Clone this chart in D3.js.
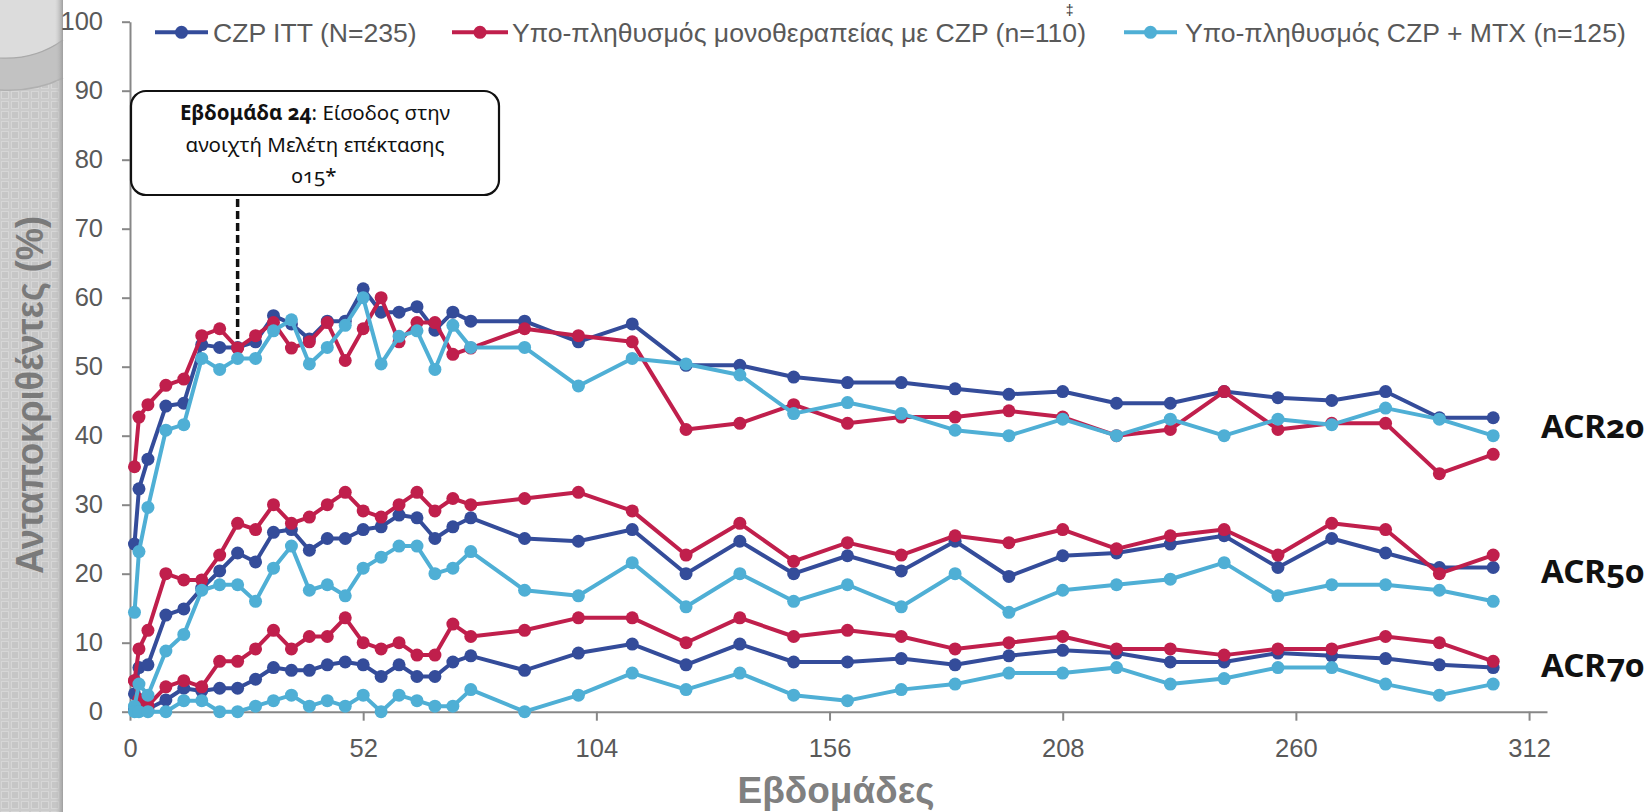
<!DOCTYPE html>
<html>
<head>
<meta charset="utf-8">
<script src="https://cdn.jsdelivr.net/npm/d3@7"></script>
<style>
  html, body { margin: 0; padding: 0; background: #ffffff; }
  svg { display: block; }
</style>
</head>
<body>
<svg id="chart" width="1650" height="812"></svg>
<script>
// Assessment weeks
const weeks = [1, 2, 4, 8, 12, 16, 20, 24, 28, 32, 36, 40, 44, 48, 52, 56, 60, 64, 68, 72, 76,
  88, 100, 112, 124, 136, 148, 160, 172, 184, 196, 208, 220, 232, 244, 256, 268, 280, 292, 304];

// CZP ITT (N=235)
const ittAcr20 = [24.3, 32.3, 36.6, 44.3, 44.7, 53.2, 52.8, 52.8, 53.6, 57.4, 56.2, 54.0, 56.6, 56.6, 61.3, 57.9, 57.9, 58.7, 55.3, 57.9, 56.6,
  56.6, 53.6, 56.2, 50.2, 50.2, 48.5, 47.7, 47.7, 46.8, 46.0, 46.4, 44.7, 44.7, 46.4, 45.5, 45.1, 46.4, 42.6, 42.6];
const ittAcr50 = [2.6, 6.4, 6.8, 14.0, 14.9, 17.9, 20.4, 23.0, 21.7, 26.0, 26.4, 23.4, 25.1, 25.1, 26.4, 26.8, 28.5, 28.1, 25.1, 26.8, 28.1,
  25.1, 24.7, 26.4, 20.0, 24.7, 20.0, 22.6, 20.4, 24.7, 19.6, 22.6, 23.0, 24.3, 25.5, 20.9, 25.1, 23.0, 20.9, 20.9];
const ittAcr70 = [0.4, 0.4, 0.4, 1.7, 3.4, 3.0, 3.4, 3.4, 4.7, 6.4, 6.0, 6.0, 6.8, 7.2, 6.8, 5.1, 6.8, 5.1, 5.1, 7.2, 8.1,
  6.0, 8.5, 9.8, 6.8, 9.8, 7.2, 7.2, 7.7, 6.8, 8.1, 8.9, 8.5, 7.2, 7.2, 8.5, 8.1, 7.7, 6.8, 6.4];

// CZP monotherapy subpopulation (n=110)
const monoAcr20 = [35.5, 42.7, 44.5, 47.3, 48.2, 54.5, 55.5, 52.7, 54.5, 56.4, 52.7, 53.6, 56.4, 50.9, 55.5, 60.0, 53.6, 56.4, 56.4, 51.8, 52.7,
  55.5, 54.5, 53.6, 40.9, 41.8, 44.5, 41.8, 42.7, 42.7, 43.6, 42.7, 40.0, 40.9, 46.4, 40.9, 41.8, 41.8, 34.5, 37.3];
const monoAcr50 = [4.5, 9.1, 11.8, 20.0, 19.1, 19.1, 22.7, 27.3, 26.4, 30.0, 27.3, 28.2, 30.0, 31.8, 29.1, 28.2, 30.0, 31.8, 29.1, 30.9, 30.0,
  30.9, 31.8, 29.1, 22.7, 27.3, 21.8, 24.5, 22.7, 25.5, 24.5, 26.4, 23.6, 25.5, 26.4, 22.7, 27.3, 26.4, 20.0, 22.7];
const monoAcr70 = [4.5, 1.8, 0.9, 3.6, 4.5, 3.6, 7.3, 7.3, 9.1, 11.8, 9.1, 10.9, 10.9, 13.6, 10.0, 9.1, 10.0, 8.2, 8.2, 12.7, 10.9,
  11.8, 13.6, 13.6, 10.0, 13.6, 10.9, 11.8, 10.9, 9.1, 10.0, 10.9, 9.1, 9.1, 8.2, 9.1, 9.1, 10.9, 10.0, 7.3];

// CZP + MTX subpopulation (n=125)
const mtxAcr20 = [14.4, 23.2, 29.6, 40.8, 41.6, 51.2, 49.6, 51.2, 51.2, 55.2, 56.8, 50.4, 52.8, 56.0, 60.0, 50.4, 54.4, 55.2, 49.6, 56.0, 52.8,
  52.8, 47.2, 51.2, 50.4, 48.8, 43.2, 44.8, 43.2, 40.8, 40.0, 42.4, 40.0, 42.4, 40.0, 42.4, 41.6, 44.0, 42.4, 40.0];
const mtxAcr50 = [0.8, 4.0, 2.4, 8.8, 11.2, 17.6, 18.4, 18.4, 16.0, 20.8, 24.0, 17.6, 18.4, 16.8, 20.8, 22.4, 24.0, 24.0, 20.0, 20.8, 23.2,
  17.6, 16.8, 21.6, 15.2, 20.0, 16.0, 18.4, 15.2, 20.0, 14.4, 17.6, 18.4, 19.2, 21.6, 16.8, 18.4, 18.4, 17.6, 16.0];
const mtxAcr70 = [0, 0, 0, 0, 1.6, 1.6, 0, 0, 0.8, 1.6, 2.4, 0.8, 1.6, 0.8, 2.4, 0, 2.4, 1.6, 0.8, 0.8, 3.2,
  0, 2.4, 5.6, 3.2, 5.6, 2.4, 1.6, 3.2, 4.0, 5.6, 5.6, 6.4, 4.0, 4.8, 6.4, 6.4, 4.0, 2.4, 4.0];

const legendLabels = ["CZP ITT (N=235)", "Υπο-πληθυσμός μονοθεραπείας με CZP (n=110)", "Υπο-πληθυσμός CZP + MTX (n=125)"];
const footnoteMark = "‡";
const seriesColors = ["#344C9A", "#C01F4C", "#4FAFD5"];
const xTicks = [0, 52, 104, 156, 208, 260, 312];
const yTicks = [0, 10, 20, 30, 40, 50, 60, 70, 80, 90, 100];
const acrLabels = ["ACR20", "ACR50", "ACR70"];
const acrLabelValues = [39.6, 18.6, 5.1];
const extensionWeek = 24;

const populations = [
  { name: legendLabels[0], color: seriesColors[0], levels: [ittAcr20, ittAcr50, ittAcr70] },
  { name: legendLabels[1], color: seriesColors[1], levels: [monoAcr20, monoAcr50, monoAcr70], mark: footnoteMark },
  { name: legendLabels[2], color: seriesColors[2], levels: [mtxAcr20, mtxAcr50, mtxAcr70] }
];

const svg = d3.select("#chart");
const axisGrey = "#878787";
const textGrey = "#595959";

// ---- decorative side band ----
const defs = svg.append("defs");
const pat = defs.append("pattern").attr("id", "checks")
  .attr("width", 10).attr("height", 10).attr("patternUnits", "userSpaceOnUse");
pat.append("rect").attr("width", 10).attr("height", 10).attr("fill", "#cbcbcb");
pat.append("rect").attr("x", 1.5).attr("y", 1.5).attr("width", 7).attr("height", 7)
  .attr("fill", "#c6c6c6").attr("stroke", "#d6d6d6").attr("stroke-width", 1);
const edge = defs.append("linearGradient").attr("id", "bandEdge").attr("x1", 0).attr("x2", 1);
edge.append("stop").attr("offset", 0).attr("stop-color", "#c4c4c4").attr("stop-opacity", 0);
edge.append("stop").attr("offset", 1).attr("stop-color", "#9e9e9e").attr("stop-opacity", 1);

svg.append("rect").attr("x", 0).attr("y", 0).attr("width", 63).attr("height", 812).attr("fill", "url(#checks)");
svg.append("path").attr("d", "M0,0 L63,0 L63,40 Q35,60 0,58 Z").attr("fill", "#dcdcdc");
svg.append("path").attr("d", "M0,58 Q35,60 63,40 L63,78 Q35,92 0,90 Z").attr("fill", "#c2c2c2");
svg.append("path").attr("d", "M0,58 Q35,60 63,40").attr("fill", "none").attr("stroke", "#a9a9a9").attr("stroke-width", 1.2);
svg.append("path").attr("d", "M0,90 Q35,92 63,78").attr("fill", "none").attr("stroke", "#b0b0b0").attr("stroke-width", 1.5);
svg.append("rect").attr("x", 55).attr("y", 0).attr("width", 8).attr("height", 812).attr("fill", "url(#bandEdge)");

// ---- scales ----
const x = d3.scaleLinear().domain([0, 316]).range([130, 1547]);
const y = d3.scaleLinear().domain([0, 100]).range([711.7, 21.7]);

// ---- axes ----
const yAxis = svg.append("g").attr("transform", `translate(${x(0)},0)`)
  .call(d3.axisLeft(y).tickValues(yTicks).tickSize(8).tickSizeOuter(0).tickPadding(19));
const xAxis = svg.append("g").attr("transform", `translate(0,${y(0)})`)
  .call(d3.axisBottom(x).tickValues(xTicks).tickSize(9).tickSizeOuter(0).tickPadding(18));
[yAxis, xAxis].forEach(g => {
  g.select(".domain").attr("stroke", axisGrey).attr("stroke-width", 2);
  g.selectAll(".tick line").attr("stroke", axisGrey).attr("stroke-width", 2);
  g.selectAll(".tick text").attr("fill", textGrey)
    .style("font-family", "'Liberation Sans', Arial, sans-serif").style("font-size", "25.5px");
});

// ---- axis titles ----
svg.append("text")
  .attr("transform", `translate(43,395) rotate(-90)`)
  .attr("text-anchor", "middle")
  .attr("textLength", 358).attr("lengthAdjust", "spacingAndGlyphs")
  .style("font-family", "'Liberation Sans', Arial, sans-serif")
  .style("font-size", "38px").style("font-weight", "bold")
  .attr("fill", "#7a7a7a")
  .text("Ανταποκριθέντες (%)");

svg.append("text")
  .attr("x", 836).attr("y", 803)
  .attr("text-anchor", "middle")
  .style("font-family", "'Liberation Sans', Arial, sans-serif")
  .style("font-size", "37px").style("font-weight", "bold")
  .attr("fill", "#808080")
  .text("Εβδομάδες");

// ---- extension-study annotation ----
const wkIdx = weeks.indexOf(extensionWeek);
svg.append("line")
  .attr("x1", x(extensionWeek)).attr("x2", x(extensionWeek))
  .attr("y1", 199).attr("y2", y(monoAcr20[wkIdx]) - 2)
  .attr("stroke", "#111").attr("stroke-width", 3.5).attr("stroke-dasharray", "8,4");

// ---- series ----
const line = d3.line().x(d => x(d.w)).y(d => y(d.v));
populations.forEach(pop => {
  const g = svg.append("g").attr("class", "population");
  pop.levels.forEach(vals => {
    const pts = weeks.map((w, i) => ({ w: w, v: vals[i] }));
    const s = g.append("g");
    s.append("path").datum(pts).attr("d", line)
      .attr("fill", "none").attr("stroke", pop.color).attr("stroke-width", 4)
      .attr("stroke-linejoin", "round");
    s.selectAll("circle").data(pts).join("circle")
      .attr("cx", d => x(d.w)).attr("cy", d => y(d.v)).attr("r", 6.5)
      .attr("fill", pop.color);
  });
});

// ---- annotation box (drawn above the plotted data) ----
const box = svg.append("g");
box.append("rect").attr("x", 131).attr("y", 91).attr("width", 368).attr("height", 104)
  .attr("rx", 15).attr("ry", 15)
  .attr("fill", "#ffffff").attr("stroke", "#111").attr("stroke-width", 2.2);
const boxFont = "'Noto Sans', 'Open Sans', sans-serif";
const l1 = box.append("text").attr("x", 315).attr("y", 120).attr("text-anchor", "middle")
  .style("font-family", boxFont).style("font-size", "20.5px").attr("fill", "#111")
  .style("font-variant-numeric", "oldstyle-nums");
l1.append("tspan").style("font-weight", "bold").text("Εβδομάδα " + extensionWeek);
l1.append("tspan").text(": Είσοδος στην");
box.append("text").attr("x", 315).attr("y", 152).attr("text-anchor", "middle")
  .style("font-family", boxFont).style("font-size", "20.5px").attr("fill", "#111")
  .text("ανοιχτή Μελέτη επέκτασης");
box.append("text").attr("x", 314).attr("y", 183).attr("text-anchor", "middle")
  .style("font-family", boxFont).style("font-size", "20.5px").attr("fill", "#111")
  .style("font-variant-numeric", "oldstyle-nums")
  .text("015*");

// ---- ACR level labels ----
acrLabels.forEach((lab, i) => {
  svg.append("text")
    .attr("x", 1541).attr("y", y(acrLabelValues[i]))
    .style("font-family", "'Noto Sans', 'Open Sans', sans-serif")
    .style("font-size", "33px").style("font-weight", "bold")
    .style("font-variant-numeric", "oldstyle-nums")
    .attr("fill", "#111")
    .text(lab);
});

// ---- legend ----
const legendItems = [
  { x0: 155, x1: 208, tx: 213 },
  { x0: 452, x1: 508, tx: 512 },
  { x0: 1124, x1: 1177, tx: 1185 }
];
const legendFontSize = 26.6;
const markFontSize = 14;
legendItems.forEach((it, i) => {
  const pop = populations[i];
  const g = svg.append("g");
  g.append("line").attr("x1", it.x0).attr("x2", it.x1).attr("y1", 32.3).attr("y2", 32.3)
    .attr("stroke", pop.color).attr("stroke-width", 4);
  g.append("circle").attr("cx", (it.x0 + it.x1) / 2).attr("cy", 32.3).attr("r", 6.5)
    .attr("fill", pop.color);
  g.append("text").attr("x", it.tx).attr("y", 41.8)
    .style("font-family", "'Liberation Sans', Arial, sans-serif").style("font-size", legendFontSize + "px")
    .attr("fill", textGrey)
    .text(pop.name);
});

// footnote mark, set just above the last digit of the monotherapy entry
const monoLegend = svg.selectAll("g").filter(function () {
  const t = d3.select(this).select("text");
  return !t.empty() && t.text() === populations[1].name;
}).select("text").node();
let markX = 1073;
if (monoLegend && monoLegend.getNumberOfChars) {
  const n = monoLegend.getNumberOfChars();
  const b = monoLegend.getExtentOfChar(n - 2);
  markX = b.x + b.width / 2;
}
svg.append("text").attr("x", markX).attr("y", 14.5).attr("text-anchor", "middle")
  .style("font-family", "'Liberation Sans', Arial, sans-serif").style("font-size", markFontSize + "px")
  .attr("fill", "#333").text(populations[1].mark);
</script>
</body>
</html>
